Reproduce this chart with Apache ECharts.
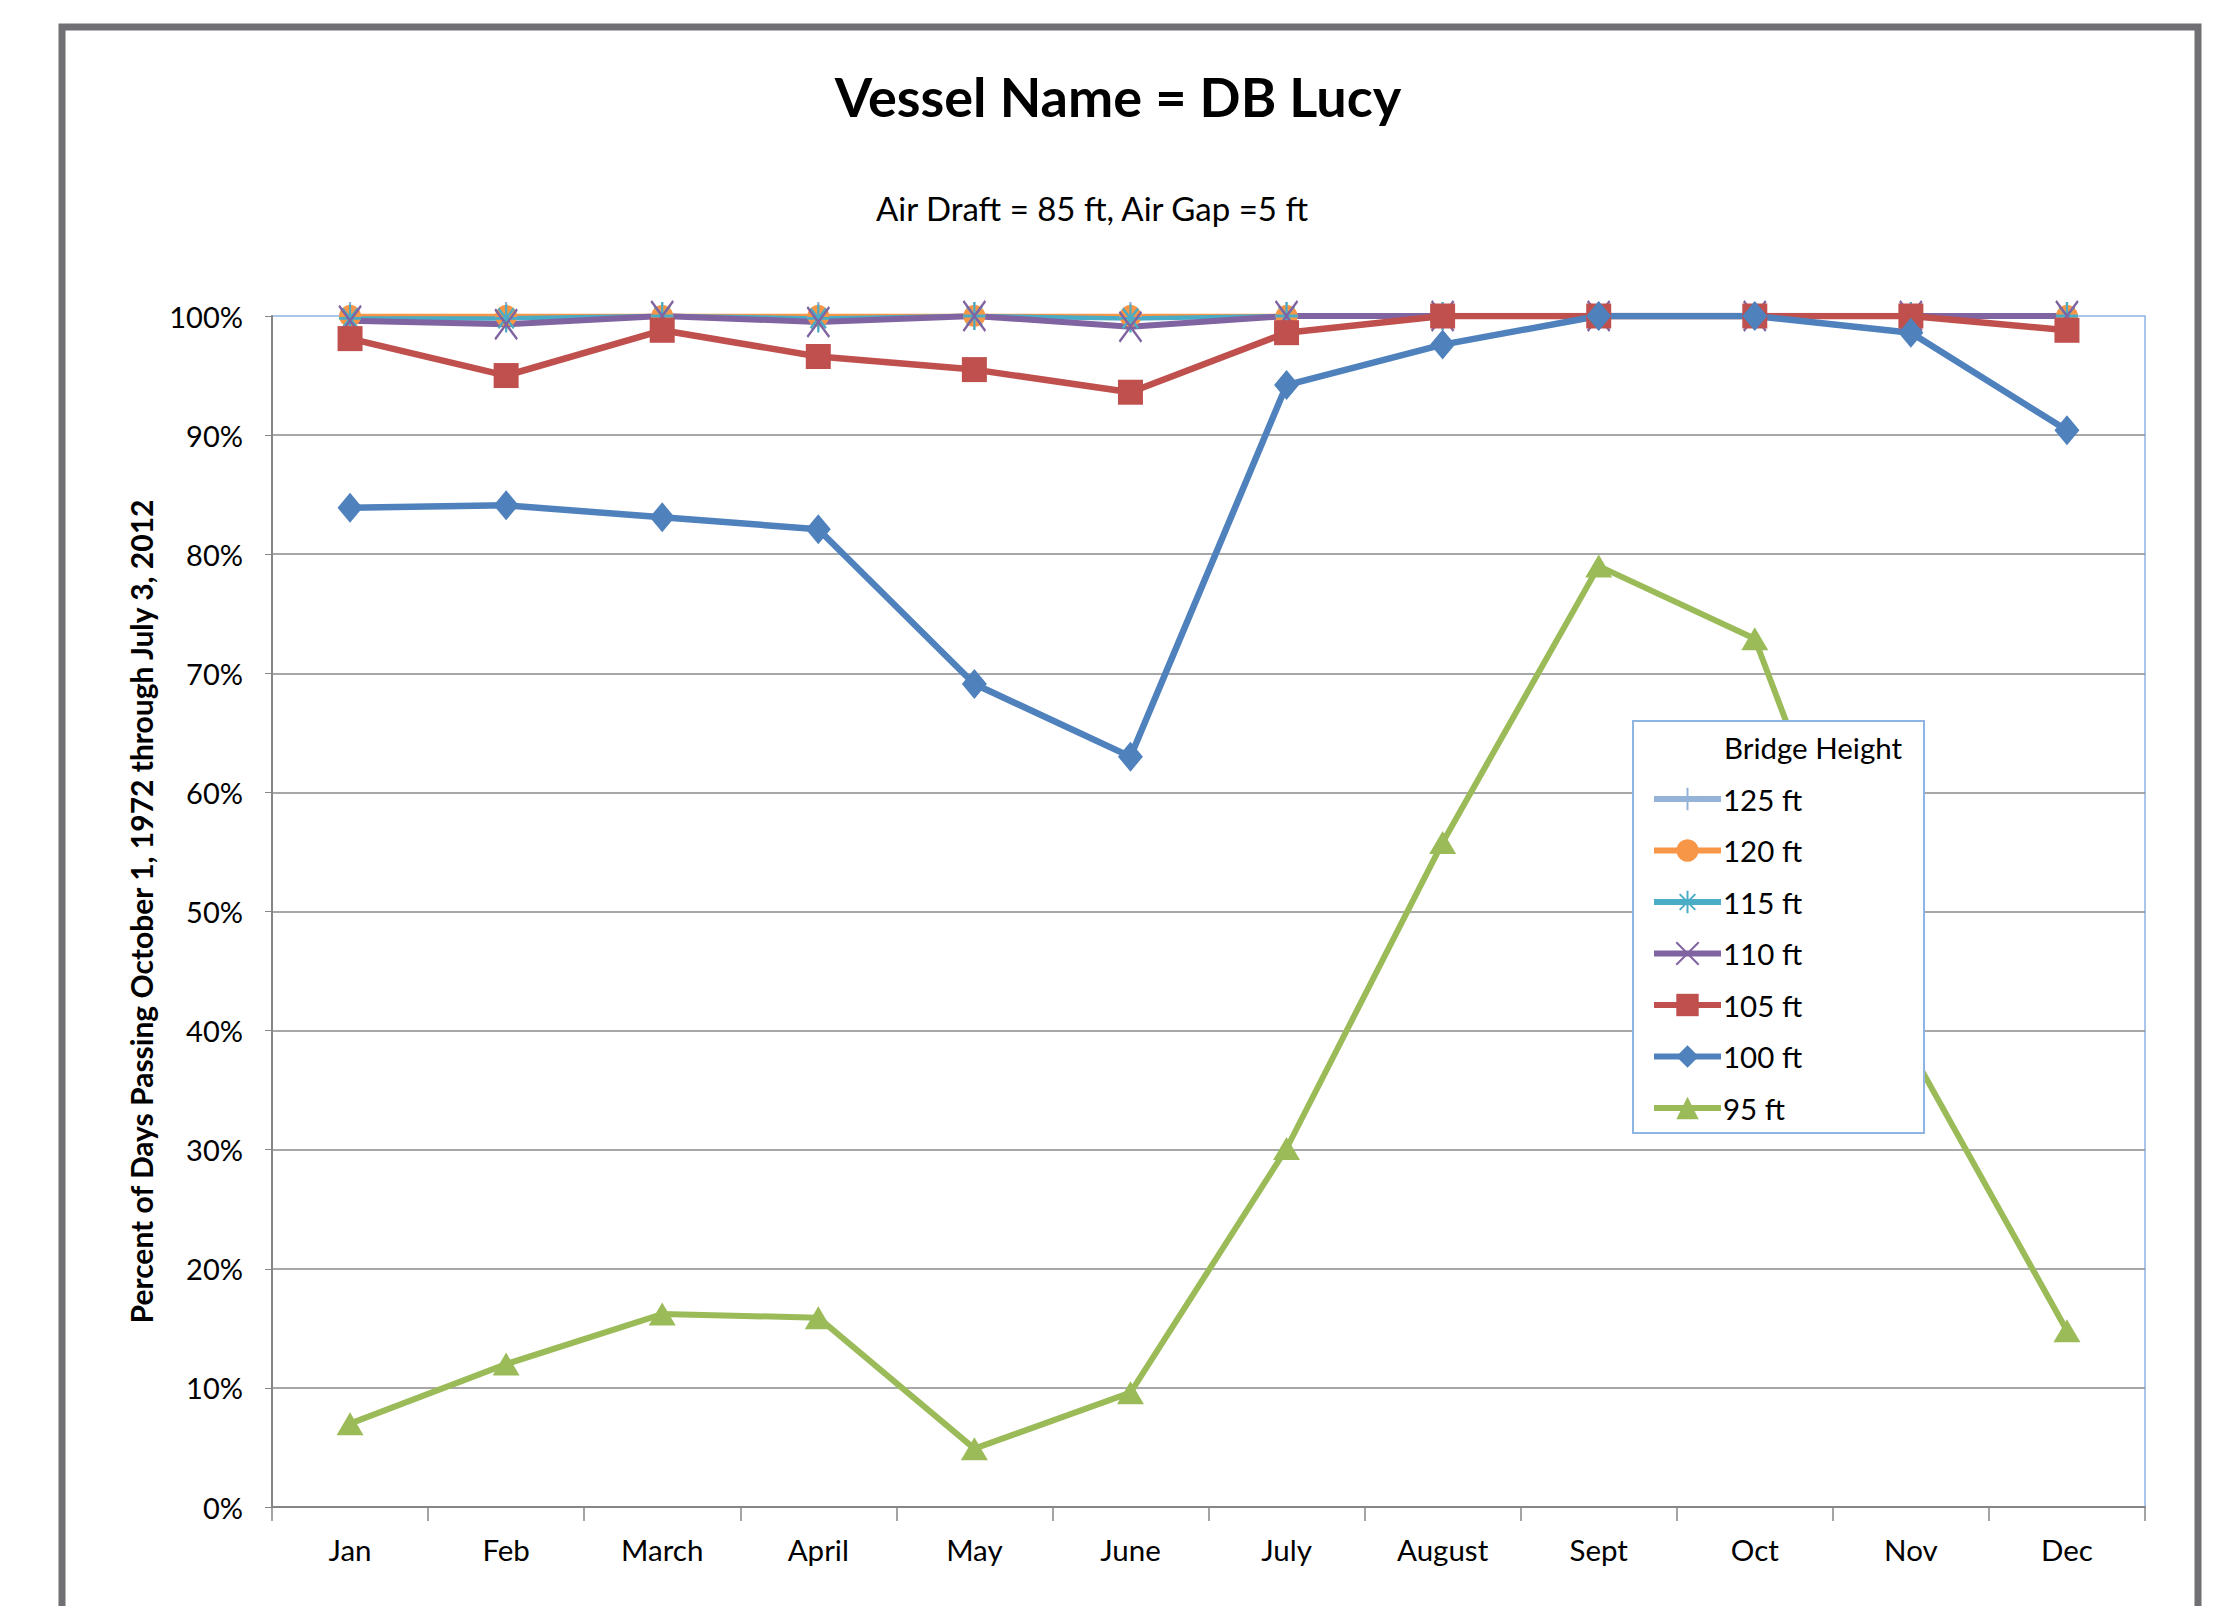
<!DOCTYPE html>
<html><head><meta charset="utf-8">
<script src="https://cdn.jsdelivr.net/npm/echarts@6/dist/echarts.min.js"></script>
<style>html,body{margin:0;padding:0;background:#fff}#c{width:2213px;height:1606px}</style>
</head><body><div id="c"></div>
<script>
const months = ['Jan','Feb','March','April','May','June','July','August','Sept','Oct','Nov','Dec'];
const seriesNames = ['125 ft','120 ft','115 ft','110 ft','105 ft','100 ft','95 ft'];
const s125 = [100,100,100,100,100,100,100,100,100,100,100,100];
const s120 = [100,100,100,100,100,100,100,100,100,100,100,100];
const s115 = [99.8,99.8,100,99.8,100,99.8,100,100,100,100,100,100];
const s110 = [99.6,99.3,100,99.5,100,99.1,100,100,100,100,100,100];
const s105 = [98.1,95.0,98.8,96.6,95.5,93.6,98.6,100,100,100,100,98.8];
const s100 = [83.9,84.1,83.1,82.1,69.1,63.0,94.2,97.6,100,100,98.6,90.4];
const s95  = [7.0,12.0,16.2,15.9,4.9,9.6,30.1,55.8,79.0,72.9,38.3,14.8];
const yTicks = {min:0, max:100, interval:10};

const FONT = 'Lato, "Open Sans", sans-serif';
const colors = ['#95B3D7','#F79646','#4BACC6','#8064A2','#C0504D','#4F81BD','#9BBB59'];
const symbols = [
  'path://M5,0 L5,10 M0,5 L10,5',
  'circle',
  'path://M5,0 L5,10 M0,5 L10,5 M1.5,1.5 L8.5,8.5 M8.5,1.5 L1.5,8.5',
  'path://M0,0 L10,10 M10,0 L0,10',
  'rect',
  'diamond',
  'triangle'
];
const sizes = [[22,28],22,[22,28],[22,30],25,[25,30],[27,23]];
const widths = [4,5,4.5,6,6.5,6.5,6];
const dataArr = [s125,s120,s115,s110,s105,s100,s95];

const chart = echarts.init(document.getElementById('c'), null, {renderer:'svg'});
const series = seriesNames.map((n,i)=>({
  name:n, type:'line', data:dataArr[i],
  symbol:symbols[i], symbolSize:sizes[i], showSymbol:true,
  lineStyle:{color:colors[i], width:widths[i]},
  itemStyle:{color:colors[i], borderColor:colors[i], borderWidth:(i===0||i===2||i===3)?2.5:0},
  emphasis:{disabled:true}, animation:false, z:2
}));

chart.setOption({
  animation:false,
  textStyle:{fontFamily:FONT},
  grid:{left:272, right:68, top:316, bottom:99, show:true, borderColor:'#8EB4E3', borderWidth:1.5, backgroundColor:'transparent'},
  xAxis:{type:'category', data:months, boundaryGap:true,
    axisLine:{lineStyle:{color:'#868686', width:2}},
    axisTick:{show:true, length:14, interval:0, lineStyle:{color:'#868686', width:1.5}},
    axisLabel:{color:'#000', fontSize:29.5, margin:27, fontFamily:FONT, interval:0}
  },
  yAxis:{type:'value', min:yTicks.min, max:yTicks.max, interval:yTicks.interval,
    axisLine:{show:true, lineStyle:{color:'#868686', width:2}},
    axisTick:{show:true, length:7, lineStyle:{color:'#868686'}},
    axisLabel:{color:'#000', fontSize:29, margin:29, formatter:'{value}%', fontFamily:FONT},
    splitLine:{show:true, showMaxLine:false, lineStyle:{color:'#8a8a8a', width:1.5}},
    name:'Percent of Days Passing October 1, 1972 through July 3, 2012',
    nameLocation:'middle', nameRotate:90, nameGap:116,
    nameTextStyle:{fontSize:30, fontWeight:'bold', color:'#000', fontFamily:FONT}
  },
  legend:{orient:'vertical', left:1651, top:784, z:20, padding:0,
    itemWidth:67, itemHeight:28, itemGap:21.5,
    lineStyle:{width:6},
    textStyle:{fontSize:29.5, color:'#000', lineHeight:30, fontFamily:FONT, padding:[0,0,0,-3]},
    data:seriesNames
  },
  graphic:[
    {type:'rect', z:15, shape:{x:62, y:27, width:2136, height:1640}, style:{fill:'none', stroke:'#707074', lineWidth:7}},
    {type:'text', z:15, x:1118, y:96, style:{text:'Vessel Name = DB Lucy', font:'bold 54px '+FONT, fill:'#000', align:'center', verticalAlign:'middle'}},
    {type:'text', z:15, x:1092, y:208, style:{text:'Air Draft = 85 ft, Air Gap =5 ft', font:'33px '+FONT, fill:'#000', align:'center', verticalAlign:'middle'}},
    {type:'rect', z:15, shape:{x:1633, y:721, width:291, height:412}, style:{fill:'#fff', stroke:'#8EB4E3', lineWidth:2}},
    {type:'text', z:21, x:1813, y:747, style:{text:'Bridge Height', font:'29.5px '+FONT, fill:'#000', align:'center', verticalAlign:'middle'}}
  ],
  series:series
});
</script></body></html>
